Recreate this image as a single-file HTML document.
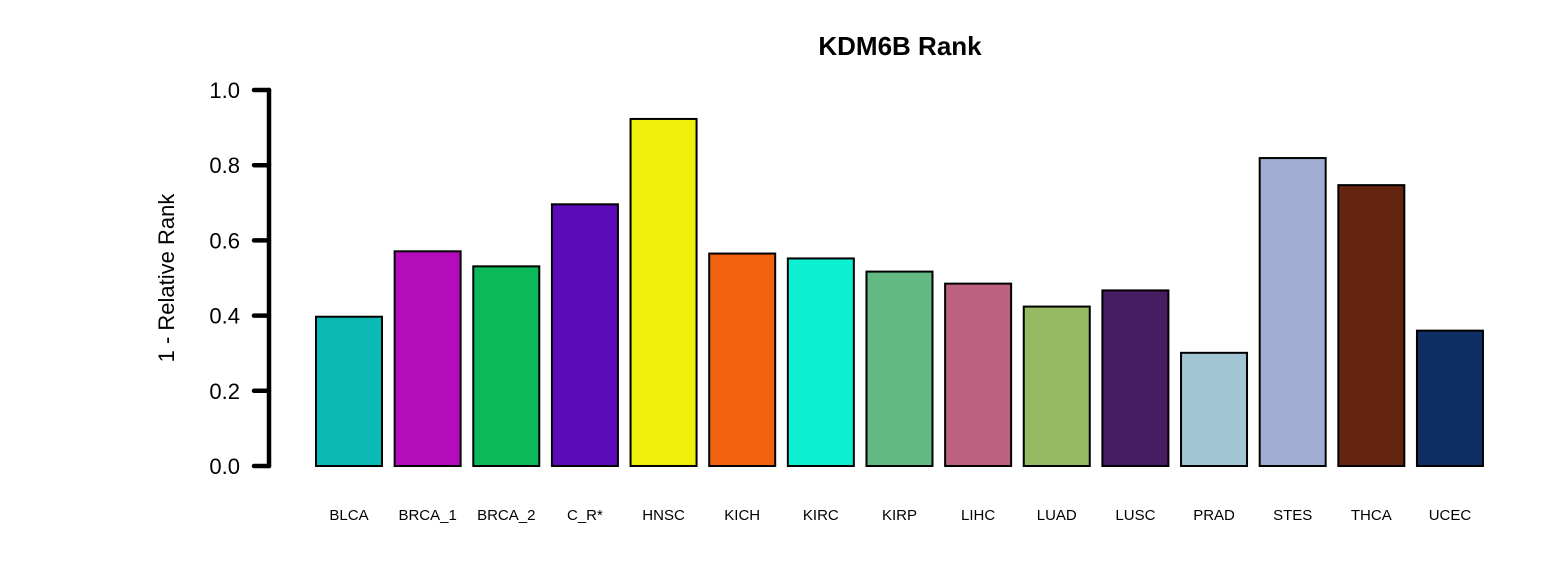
<!DOCTYPE html>
<html><head><meta charset="utf-8"><style>
body{margin:0;background:#fff}
svg{display:block;font-family:"Liberation Sans",Arial,sans-serif}
</style></head><body>
<svg id="chart" width="1560" height="586">
<text x="900" y="55" text-anchor="middle" font-size="26" font-weight="bold">KDM6B Rank</text>
<text transform="translate(174,278) rotate(-90)" text-anchor="middle" font-size="22">1 - Relative Rank</text>
<g id="yaxis"></g>
<g id="bars"></g>
<g id="xlabels"></g>
</svg>
<script>
const categories=["BLCA","BRCA_1","BRCA_2","C_R*","HNSC","KICH","KIRC","KIRP","LIHC","LUAD","LUSC","PRAD","STES","THCA","UCEC"];
const values=[0.397,0.571,0.531,0.696,0.923,0.565,0.552,0.517,0.485,0.424,0.467,0.301,0.819,0.747,0.36];
const colors=["#0cbab5","#b40cbb","#0bb85a","#5c0bb8","#eef00c","#f0620f","#0ef0d2","#62ba82","#bc6180","#96ba62","#461c62","#a1c5d3","#9fadd2","#632511","#0f2f64"];
const yTicks=[0,0.2,0.4,0.6,0.8,1.0];
const yTickLabels=["0.0","0.2","0.4","0.6","0.8","1.0"];
const NS="http://www.w3.org/2000/svg";
const y=v=>466-v*376;
const x=i=>316+i*78.64;
const bw=66;
function mk(t,a,p){const e=document.createElementNS(NS,t);for(const k in a)e.setAttribute(k,a[k]);p.appendChild(e);return e;}
const ya=document.getElementById('yaxis');
const ax=mk('line',{x1:269,x2:269,y1:y(1),y2:y(0),stroke:'#000','stroke-width':4.5,'stroke-linecap':'round'},ya);


yTicks.forEach((t,i)=>{
 const l=mk('line',{x1:254,x2:269,y1:y(t),y2:y(t),stroke:'#000','stroke-width':4.5,'stroke-linecap':'round'},ya);
 
 
 const tx=mk('text',{x:240,y:y(t)+8,'text-anchor':'end','font-size':22},ya);
 tx.textContent=yTickLabels[i];
 
 
});
const bg=document.getElementById('bars'),xl=document.getElementById('xlabels');
values.forEach((v,i)=>{
 const r=mk('rect',{x:x(i),y:y(v),width:bw,height:y(0)-y(v),fill:colors[i],stroke:'#000','stroke-width':2},bg);
 
 
 const t=mk('text',{x:x(i)+bw/2,y:520,'text-anchor':'middle','font-size':15},xl);
 t.textContent=categories[i];
 
 
});
</script>
</body></html>
